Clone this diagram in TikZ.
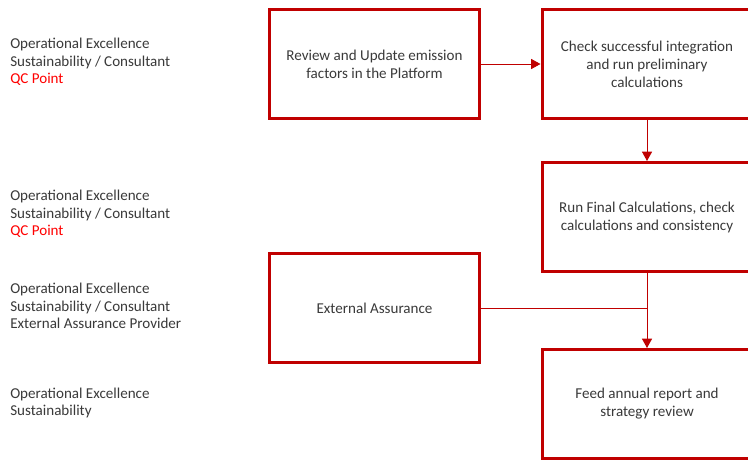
\documentclass[tikz,border=0pt]{standalone}
\usepackage{fontspec}
\setmainfont{Carlito}
\usetikzlibrary{arrows.meta}
\definecolor{boxred}{HTML}{C00000}
\definecolor{qcred}{HTML}{FF0000}
\definecolor{txtgrey}{HTML}{3A3A3A}
\begin{document}
\begin{tikzpicture}[x=0.75pt,y=-0.75pt,
  stepbox/.style={draw=boxred,line width=2.25pt,fill=white,minimum width=157.5pt,minimum height=81.75pt,inner sep=0pt,align=center,text=txtgrey,font=\fontsize{11.3}{13.5}\selectfont},
  role/.style={anchor=west,align=left,inner sep=0pt,text=txtgrey,font=\fontsize{11.3}{13.2}\selectfont},
  conn/.style={draw=boxred,line width=0.75pt,-{Triangle[width=7.5pt,length=7pt]}},
  plainconn/.style={draw=boxred,line width=0.75pt}]
\useasboundingbox (0,0) rectangle (748,462);
\fill[white] (0,0) rectangle (748,462);
\node[role] (r1) at (10,62) {Operational Excellence\\Sustainability / Consultant\\\textcolor{qcred}{QC Point}};
\node[role] (r2) at (10,214) {Operational Excellence\\Sustainability / Consultant\\\textcolor{qcred}{QC Point}};
\node[role] (r3) at (10,306) {Operational Excellence\\Sustainability / Consultant\\External Assurance Provider};
\node[role] (r4) at (10,403) {Operational Excellence\\Sustainability};
\node[stepbox] (a) at (374.5,64) {Review and Update emission\\factors in the Platform};
\node[stepbox] (b) at (647,64) {Check successful integration\\and run preliminary\\calculations};
\node[stepbox] (c) at (647,217) {Run Final Calculations, check\\calculations and consistency};
\node[stepbox] (d) at (374.5,308) {External Assurance};
\node[stepbox] (e) at (647,404) {Feed annual report and\\strategy review};
\draw[conn] (a.east) -- (b.west);
\draw[conn] (b.south) -- (c.north);
\draw[conn] (c.south) -- (e.north);
\draw[plainconn] (d.east) -- (d.east -| c.south);
\end{tikzpicture}
\end{document}
